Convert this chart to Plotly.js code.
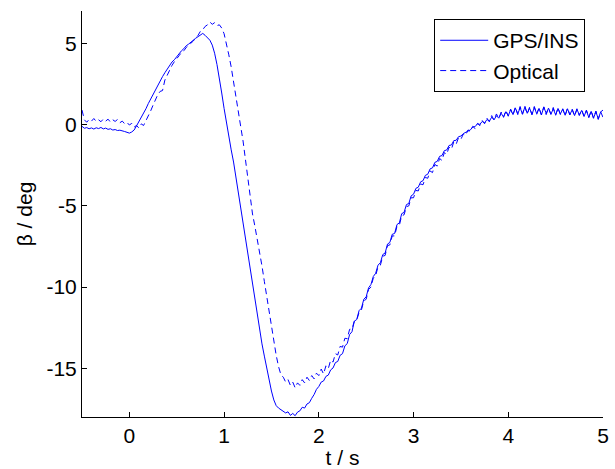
<!DOCTYPE html>
<html>
<head>
<meta charset="utf-8">
<script src="https://cdn.plot.ly/plotly-3.0.1.min.js"></script>
<style>html,body{margin:0;padding:0;background:#fff;}#chart{width:615px;height:469px;}</style>
</head>
<body>
<div id="chart"></div>
<script>
// sampling of the recorded signals (seconds)
const tStart = -0.5;
const tStep = 0.025;

// side-slip angle beta (deg), GPS/INS
const gpsIns = [
  -0.10,-0.22,-0.18,-0.25,-0.20,-0.27,-0.19,-0.24,-0.17,-0.26,-0.21,-0.29,-0.25,-0.33,-0.30,-0.36,-0.34,-0.40,-0.42,-0.47,
  -0.52,-0.45,-0.33,-0.08,0.18,0.42,0.70,0.98,1.30,1.58,1.92,2.20,2.48,2.70,2.96,3.20,3.42,3.66,3.86,4.00,
  4.20,4.36,4.55,4.68,4.86,4.96,5.10,5.18,5.32,5.42,5.55,5.62,5.50,5.38,5.20,4.90,4.40,3.70,2.90,1.95,
  1.00,0.05,-0.85,-1.55,-2.30,-3.25,-4.20,-5.15,-6.10,-7.00,-7.90,-8.70,-9.60,-10.60,-11.60,-12.55,-13.50,-14.25,-15.00,-15.75,
  -16.40,-16.95,-17.30,-17.45,-17.55,-17.62,-17.75,-17.68,-17.90,-17.78,-17.92,-17.70,-17.62,-17.40,-17.45,-17.20,-17.12,-16.85,-16.62,-16.30,
  -16.12,-15.85,-15.78,-15.50,-15.42,-15.10,-14.98,-14.65,-14.58,-14.20,-14.10,-13.62,-13.48,-12.92,-12.75,-12.10,-12.00,-11.45,-11.30,-10.75,
  -10.60,-10.05,-9.85,-9.35,-9.15,-8.65,-8.50,-8.00,-7.90,-7.35,-7.25,-6.75,-6.70,-6.15,-6.05,-5.48,-5.40,-4.92,-4.85,-4.38,
  -4.28,-3.92,-3.85,-3.52,-3.45,-3.12,-3.05,-2.72,-2.66,-2.32,-2.26,-1.95,-1.90,-1.60,-1.56,-1.28,-1.25,-0.98,-0.96,-0.74,
  -0.70,-0.55,-0.48,-0.36,-0.32,-0.14,-0.12,0.06,0.02,0.20,0.10,0.32,0.22,0.46,0.30,0.55,0.40,0.70,0.48,0.80,
  0.55,0.92,0.62,1.02,0.66,1.05,0.65,1.08,0.70,1.02,0.62,1.06,0.68,1.00,0.60,1.08,0.70,1.02,0.64,0.98,
  0.60,1.00,0.66,0.96,0.58,0.98,0.62,0.92,0.56,0.95,0.60,0.88,0.52,0.86,0.45,0.82,0.40,0.80,0.36,0.78,
  0.90
];

// side-slip angle beta (deg), optical sensor
const optical = [
  0.90,0.30,0.15,0.32,0.22,0.38,0.20,0.30,0.18,0.35,0.22,0.34,0.16,0.30,0.20,0.32,0.12,0.22,0.06,0.14,
  -0.02,0.08,-0.15,-0.05,-0.20,0.05,-0.05,0.25,0.45,0.85,1.20,1.55,1.85,2.05,2.10,2.75,3.05,3.40,3.65,3.88,
  4.10,4.25,4.45,4.55,4.75,4.88,5.05,5.15,5.35,5.50,5.75,5.85,6.05,6.15,6.32,6.18,6.28,6.10,6.15,5.95,
  5.60,5.00,4.30,3.55,2.70,1.75,0.75,-0.10,-1.00,-2.20,-3.40,-4.50,-5.50,-6.25,-7.00,-7.80,-8.70,-9.65,-10.60,-11.50,
  -12.40,-13.30,-14.20,-14.90,-15.40,-15.55,-15.85,-15.70,-16.05,-15.85,-16.20,-15.90,-16.05,-15.70,-15.90,-15.55,-15.75,-15.45,-15.65,-15.30,
  -15.45,-15.05,-15.35,-14.85,-15.02,-14.50,-14.62,-14.10,-14.18,-13.65,-13.70,-13.15,-13.18,-12.60,-12.58,-12.10,-12.05,-11.55,-11.40,-10.85,
  -10.75,-10.15,-10.00,-9.45,-9.30,-8.75,-8.65,-8.10,-8.05,-7.45,-7.40,-6.85,-6.85,-6.25,-6.20,-5.60,-5.55,-5.05,-5.00,-4.50,
  -4.50,-4.05,-4.08,-3.65,-3.70,-3.25,-3.30,-2.85,-2.95,-2.45,-2.55,-2.08,-2.20,-1.72,-1.82,-1.38,-1.52,-1.05,-1.20,-0.80,
  -0.90,-0.58,-0.66,-0.32,-0.42,-0.10,-0.24,0.08,-0.06,0.26,0.06,0.40,0.18,0.56,0.28,0.66,0.38,0.78,0.45,0.88,
  0.52,0.96,0.60,1.10,0.62,1.12,0.64,1.15,0.66,1.08,0.62,1.12,0.64,1.05,0.60,1.10,0.62,1.02,0.64,1.06,
  0.58,1.04,0.62,0.98,0.56,1.02,0.60,0.96,0.54,0.98,0.56,0.92,0.50,0.90,0.44,0.86,0.40,0.84,0.32,0.80,
  0.45
];

const seriesNames = ["GPS/INS", "Optical"];
const xTickVals = [0, 1, 2, 3, 4, 5];
const xTickText = ["0", "1", "2", "3", "4", "5"];
const yTickVals = [-15, -10, -5, 0, 5];
const yTickText = ["-15", "-10", "-5", "0", "5"];

const tGps = gpsIns.map((_, i) => +(tStart + i * tStep).toFixed(3));
const tOpt = optical.map((_, i) => +(tStart + i * tStep).toFixed(3));

const FONT = "Liberation Sans, Arial, Helvetica, sans-serif";
const FS = 21;

const traces = [
  {x: tGps, y: gpsIns, name: seriesNames[0], type: "scatter", mode: "lines",
   line: {color: "#0000ff", width: 1}},
  {x: tOpt, y: optical, name: seriesNames[1], type: "scatter", mode: "lines",
   line: {color: "#0000ff", width: 1, dash: "6px,4px"}}
];

const layout = {
  width: 615, height: 469,
  margin: {l: 82, r: 12, t: 11, b: 52},
  paper_bgcolor: "#ffffff", plot_bgcolor: "#ffffff",
  font: {family: FONT, size: FS, color: "#000000"},
  showlegend: true,
  legend: {x: 0.676, y: 0.98, xanchor: "left", yanchor: "top",
           bordercolor: "#000000", borderwidth: 1, bgcolor: "#ffffff",
           font: {family: FONT, size: FS, color: "#000000"},
           itemwidth: 48, tracegroupgap: 0},
  xaxis: {range: [-0.5, 5], tickmode: "array", tickvals: xTickVals, ticktext: xTickText,
          ticks: "inside", ticklen: 5, tickcolor: "#000000", tickwidth: 1,
          showline: true, linecolor: "#000000", linewidth: 1, mirror: false,
          showgrid: false, zeroline: false,
          tickfont: {family: FONT, size: FS, color: "#000000"},
          title: {text: "t / s", font: {family: FONT, size: FS, color: "#000000"}, standoff: 5}},
  yaxis: {range: [-18, 7], tickmode: "array", tickvals: yTickVals, ticktext: yTickText,
          ticks: "inside", ticklen: 5, tickcolor: "#000000", tickwidth: 1,
          showline: true, linecolor: "#000000", linewidth: 1, mirror: false,
          showgrid: false, zeroline: false,
          tickfont: {family: FONT, size: FS, color: "#000000"},
          title: {text: "β / deg", font: {family: FONT, size: FS, color: "#000000"}, standoff: 8}}
};

Plotly.newPlot("chart", traces, layout, {staticPlot: true, displayModeBar: false});
</script>
</body>
</html>
